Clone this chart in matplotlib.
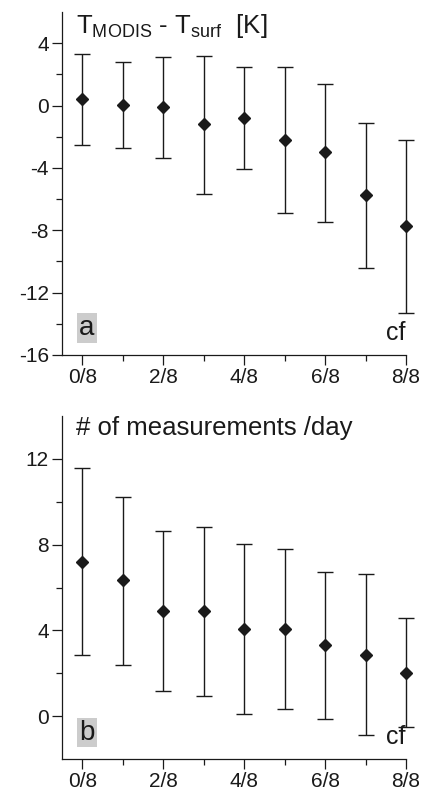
import matplotlib.pyplot as plt

plt.rcParams['font.family'] = ['Liberation Sans', 'DejaVu Sans']
plt.rcParams['mathtext.fontset'] = 'custom'
plt.rcParams['mathtext.rm'] = 'Liberation Sans'

#cloud fraction classes (eighths)
cf = [0, 1, 2, 3, 4, 5, 6, 7, 8]
cf_labels = ['0/8', '2/8', '4/8', '6/8', '8/8']

#panel a: T_MODIS - T_surf, mean with upper and lower whisker ends
dt_mean = [0.4, 0.05, -0.1, -1.2, -0.8, -2.2, -3.0, -5.75, -7.75]
dt_top = [3.3, 2.8, 3.1, 3.2, 2.45, 2.5, 1.4, -1.1, -2.2]
dt_bot = [-2.5, -2.7, -3.35, -5.65, -4.1, -6.9, -7.5, -10.4, -13.3]

#panel b: number of measurements per day
n_mean = [7.2, 6.33, 4.9, 4.9, 4.05, 4.08, 3.3, 2.87, 2.03]
n_top = [11.57, 10.23, 8.64, 8.84, 8.03, 7.81, 6.74, 6.62, 4.58]
n_bot = [2.88, 2.4, 1.2, 0.96, 0.11, 0.36, -0.11, -0.87, -0.49]

fig = plt.figure(figsize=(4.27, 7.99), dpi=100)
ax_a = fig.add_axes([0.1452, 0.5557, 0.8056, 0.4293])
ax_b = fig.add_axes([0.1452, 0.0497, 0.8056, 0.4300])

col = '#1a1a1a'


def draw_panel(ax, mean, top, bot, ylim, yticks, yminor, title, letter):
    lower = [m - b for m, b in zip(mean, bot)]
    upper = [t - m for m, t in zip(mean, top)]
    eb = ax.errorbar(cf, mean, yerr=[lower, upper], fmt='D', color=col,
                     ecolor=col, elinewidth=1.0, capsize=5.8, capthick=1.0,
                     markersize=5.8)
    #let the last whisker at 8/8 show past the axis edge
    for child in eb.get_children():
        child.set_clip_on(False)
    ax.set_xlim(-0.5, 8)
    ax.set_ylim(*ylim)
    ax.set_xticks([0, 2, 4, 6, 8])
    ax.set_xticklabels(cf_labels)
    ax.set_xticks([1, 3, 5, 7], minor=True)
    ax.set_yticks(yticks)
    ax.set_yticklabels([str(v) for v in yticks])
    ax.set_yticks(yminor, minor=True)
    for s in ['top', 'right']:
        ax.spines[s].set_visible(False)
    for s in ['left', 'bottom']:
        ax.spines[s].set_linewidth(0.9)
        ax.spines[s].set_color(col)
    ax.tick_params(which='major', length=7.5, width=0.9, labelsize=15,
                   color=col, labelcolor=col, pad=2)
    ax.tick_params(which='minor', length=4, width=0.9, color=col)
    ax.text(0.04, 1.0, title, transform=ax.transAxes, ha='left', va='top',
            fontsize=18.5, color=col)
    ax.text(0.05, 0.04, letter, transform=ax.transAxes, ha='left',
            va='bottom', fontsize=20, color=col,
            bbox=dict(facecolor='#cccccc', edgecolor='none', pad=1.5))
    ax.text(1.0, 0.03, 'cf', transform=ax.transAxes, ha='right',
            va='bottom', fontsize=18, color=col)


draw_panel(ax_a, dt_mean, dt_top, dt_bot, (-16, 6), [4, 0, -4, -8, -12, -16],
           [2, -2, -6, -10, -14],
           r'T$_\mathrm{MODIS}$ - T$_\mathrm{surf}$  [K]', 'a')
draw_panel(ax_b, n_mean, n_top, n_bot, (-2, 14), [12, 8, 4, 0],
           [10, 6, 2], '# of measurements /day', 'b')

fig.savefig('out.png', dpi=100)
